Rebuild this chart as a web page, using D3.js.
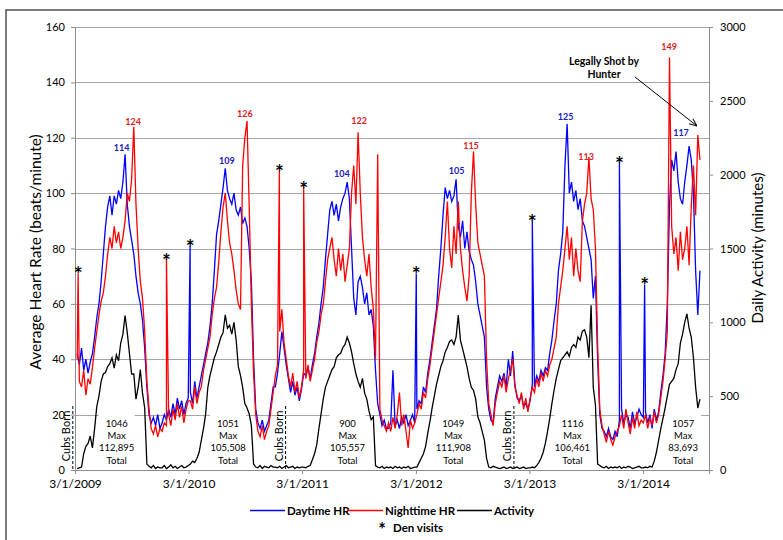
<!DOCTYPE html>
<meta charset="utf-8">
<head>
<style>
  body { margin: 0; background: #fff; }
  text { font-family: Lato, "Open Sans", sans-serif; }
  .grid line { stroke: #a6a6a6; stroke-width: 1px; }
  .axis path, .axis line { stroke: #8c8c8c; }
  .axis text { fill: #000; font-size: 11px; font-family: Lato, sans-serif; }
  .line-day { fill: none; stroke: #0000ff; stroke-width: 1.3px; }
  .line-night { fill: none; stroke: #ff0000; stroke-width: 1.3px; }
  .line-act { fill: none; stroke: #000; stroke-width: 1.3px; }
</style>
</head>
<body>
<script src="https://cdn.jsdelivr.net/npm/d3@7"></script>
<script>
// weekly readings, first week starts 3/8/2009, 13 weeks per row
var firstWeek = new Date(2009, 2, 8);

var dayHR = [
  42, 38, 44, 36, 40, 35, 39, 42, 48, 55, 60, 68, 78,
  88, 95, 99, 92, 99, 96, 101, 98, 104, 114, 96, 88, 83,
  78, 70, 64, 60, 54, 44, 30, 20, 17, 19, 16, 20, 15,
  17, 20, 18, 22, 19, 24, 20, 26, 22, 25, 20, 24, 26,
  28, 24, 32, 26, 30, 34, 38, 42, 46, 52, 60, 72, 85,
  90, 96, 102, 109, 101, 98, 96, 100, 94, 92, 95, 89, 91,
  88, 80, 68, 40, 22, 17, 15, 18, 14, 16, 18, 24, 30,
  30, 35, 42, 50, 44, 38, 33, 28, 32, 27, 30, 25, 29,
  35, 34, 37, 33, 38, 42, 48, 53, 60, 66, 76, 85, 94,
  97, 92, 96, 90, 95, 98, 100, 104, 98, 80, 62, 56, 68,
  70, 66, 60, 64, 56, 58, 52, 36, 24, 20, 16, 18, 15,
  15, 17, 36, 16, 18, 15, 19, 17, 20, 16, 18, 20, 17,
  22, 25, 24, 30, 28, 35, 40, 46, 52, 58, 70, 80, 92,
  102, 98, 101, 97, 99, 105, 88, 84, 90, 80, 86, 79, 76,
  74, 68, 60, 56, 52, 48, 30, 22, 18, 17, 26, 30, 34,
  32, 35, 30, 40, 34, 43, 31, 26, 25, 27, 23, 24, 22,
  25, 31, 30, 34, 32, 36, 34, 37, 36, 42, 47, 54, 60,
  72, 78, 86, 110, 125, 100, 104, 97, 101, 94, 98, 90, 88,
  84, 80, 76, 62, 70, 40, 20, 15, 14, 12, 15, 12, 11,
  14, 12, 18, 22, 17, 20, 19, 15, 21, 17, 19, 22, 20,
  19, 21, 17, 20, 15, 22, 18, 21, 28, 34, 42, 60, 95,
  112, 108, 115, 104, 98, 96, 104, 110, 117, 112, 100, 72, 56,
  72
];

var nightHR = [
  40, 32, 30, 36, 27, 33, 31, 37, 44, 50, 56, 61, 64,
  70, 78, 84, 80, 88, 82, 86, 80, 84, 90, 100, 97, 105,
  124, 96, 80, 68, 62, 50, 32, 22, 15, 13, 16, 12, 15,
  14, 17, 16, 20, 16, 22, 18, 24, 19, 23, 17, 22, 25,
  25, 22, 30, 24, 28, 30, 36, 40, 44, 48, 56, 62, 66,
  75, 86, 95, 100, 90, 82, 78, 72, 65, 60, 58, 110, 120,
  126, 95, 60, 35, 20, 14, 12, 16, 11, 14, 16, 22, 28,
  34, 38, 50, 58, 46, 40, 34, 30, 35, 28, 32, 26, 30,
  36, 33, 38, 32, 36, 40, 46, 50, 56, 60, 68, 76, 80,
  84, 76, 70, 80, 72, 78, 68, 74, 80, 100, 110, 96, 122,
  100, 84, 76, 70, 78, 66, 58, 40, 114, 22, 18, 16, 14,
  17, 14, 19, 15, 20, 28, 16, 20, 14, 8, 18, 15, 17,
  20, 24, 22, 28, 26, 33, 38, 44, 50, 56, 62, 68, 74,
  84, 97, 80, 73, 88, 78, 97, 80, 72, 66, 61, 70, 100,
  115, 96, 82, 78, 74, 70, 40, 24, 20, 16, 24, 28, 32,
  30, 34, 28, 33, 36, 40, 30, 27, 24, 28, 22, 26, 21,
  26, 30, 28, 33, 30, 35, 32, 36, 34, 38, 40, 44, 48,
  60, 66, 72, 80, 88, 76, 84, 70, 80, 72, 68, 90, 96,
  100, 113, 98, 94, 80, 45, 22, 16, 13, 10, 14, 11, 9,
  12, 14, 16, 20, 15, 22, 17, 13, 19, 15, 21, 16, 18,
  17, 20, 15, 19, 16, 21, 17, 20, 26, 32, 40, 50, 149,
  88, 78, 84, 72, 86, 76, 80, 88, 74, 95, 110, 92, 121,
  112
];

var activity = [
  10, 15, 20, 110, 160, 180, 230, 150, 280, 430, 500, 600, 650,
  660, 700, 720, 760, 690, 780, 740, 860, 920, 1046, 930, 790, 650,
  650, 480, 560, 680, 520, 420, 40, 25, 15, 30, 10, 20, 15,
  15, 30, 10, 20, 35, 15, 25, 10, 20, 30, 15, 20, 30,
  40, 60, 50, 80, 120, 200, 280, 380, 560, 640, 700, 760, 800,
  850, 900, 930, 1051, 960, 980, 920, 1000, 880, 700, 640, 560, 450,
  420, 380, 300, 40, 20, 15, 30, 10, 25, 20, 15, 30, 20,
  20, 15, 25, 10, 20, 30, 15, 20, 25, 10, 20, 15, 20,
  20, 15, 25, 30, 70, 110, 170, 280, 380, 480, 560, 600, 640,
  680, 700, 760, 780, 790, 830, 850, 900, 860, 800, 720, 650, 600,
  560, 620, 520, 480, 400, 340, 360, 30, 20, 15, 25, 10, 20,
  15, 20, 10, 25, 15, 20, 10, 20, 15, 25, 10, 15, 20,
  20, 50, 80, 110, 160, 250, 330, 420, 500, 580, 640, 700, 740,
  800, 830, 870, 880, 850, 900, 1049, 880, 820, 760, 700, 620, 560,
  540, 480, 360, 320, 260, 200, 80, 20, 15, 25, 20, 15, 10,
  15, 20, 10, 15, 20, 10, 15, 20, 10, 15, 20, 10, 15,
  15, 20, 15, 30, 50, 80, 120, 180, 260, 350, 450, 540, 620,
  680, 740, 760, 780, 800, 770, 830, 850, 830, 900, 880, 940, 950,
  900, 760, 1116, 560, 440, 40, 30, 20, 15, 25, 10, 20, 15,
  20, 15, 25, 10, 20, 15, 25, 20, 10, 15, 20, 25, 15,
  15, 20, 15, 25, 20, 60, 120, 200, 280, 350, 420, 500, 580,
  600, 620, 680, 720, 860, 920, 1000, 1057, 960, 900, 760, 560, 420,
  480
];

// den visits: one-day spikes marked with *
var denDates  = ["2009-03-11", "2009-12-20", "2010-03-06", "2010-12-18", "2011-03-06",
                 "2012-03-02", "2013-03-10", "2013-12-15", "2014-03-06"];
var denValues = [71, 76, 81, 108, 102, 71, 90, 111, 67];
var denSeries = ["night", "night", "day", "night", "night", "day", "day", "day", "day"];

// peak value labels
var peakText   = ["114", "124", "109", "126", "104", "122", "105", "115", "125", "113", "117", "149"];
var peakDates  = ["2009-07-29", "2009-09-04", "2010-07-02", "2010-08-29", "2011-07-07", "2011-08-31",
                  "2012-07-10", "2012-08-25", "2013-06-25", "2013-08-30", "2014-07-01", "2014-05-24"];
var peakLevel  = [115.3, 124.6, 110.4, 127.5, 105.7, 124.9, 106.9, 116.1, 126.4, 111.9, 120.5, 151.6];
var peakSeries = ["day", "night", "day", "night", "day", "night", "day", "night", "day", "night", "day", "night"];

// yearly activity summaries
var maxDates  = ["2009-07-13", "2010-07-06", "2011-07-25", "2012-06-29", "2013-07-17", "2014-07-08"];
var maxValues = ["1046", "1051", "900", "1049", "1116", "1057"];
var totals    = ["112,895", "105,508", "105,557", "111,908", "106,461", "83,693"];

var cubsDates = ["2009-02-22", "2011-01-07", "2013-01-10"];

var xTicks   = ["2009-03-01", "2010-03-01", "2011-03-01", "2012-03-01", "2013-03-01", "2014-03-01"];
var hrTicks  = [0, 20, 40, 60, 80, 100, 120, 140, 160];
var actTicks = [0, 500, 1000, 1500, 2000, 2500, 3000];

var parseDate = d3.timeParse("%Y-%m-%d");

var margin = { top: 27, right: 74, bottom: 70, left: 75 },
    width = 783 - margin.left - margin.right,
    height = 540 - margin.top - margin.bottom;

var svg0 = d3.select("body").append("svg")
    .attr("width", 783)
    .attr("height", 540);

// outer frame
svg0.append("rect")
    .attr("x", 6).attr("y", 10)
    .attr("width", 820).attr("height", 600)
    .attr("fill", "none")
    .attr("stroke", "#5a5a5a")
    .attr("stroke-width", 1.6);

var svg = svg0.append("g")
    .attr("transform", "translate(" + margin.left + "," + margin.top + ")");

var x = d3.scaleTime()
    .domain([parseDate("2009-03-01"), parseDate("2014-09-29")])
    .range([0, width]);
var y = d3.scaleLinear().domain([0, 160]).range([height, 0]);
var y2 = d3.scaleLinear().domain([0, 3000]).range([height, 0]);

// grid lines
svg.append("g").attr("class", "grid")
  .selectAll("line")
  .data(hrTicks.slice(1))
  .enter().append("line")
    .attr("x1", 0).attr("x2", width)
    .attr("y1", function(d) { return Math.round(y(d)) + 0.5; })
    .attr("y2", function(d) { return Math.round(y(d)) + 0.5; });

// axes
svg.append("g")
    .attr("class", "axis")
    .call(d3.axisLeft(y).tickValues(hrTicks).tickSize(4).tickPadding(6));

svg.append("g")
    .attr("class", "axis")
    .attr("transform", "translate(" + width + ",0)")
    .call(d3.axisRight(y2).tickValues(actTicks).tickFormat(d3.format("d")).tickSize(4).tickPadding(7));

svg.append("g")
    .attr("class", "axis")
    .attr("transform", "translate(0," + height + ")")
    .call(d3.axisBottom(x)
        .tickValues(xTicks.map(parseDate))
        .tickFormat(d3.timeFormat("%-m/%-d/%Y"))
        .tickSize(4).tickPadding(5))
    .selectAll("text").style("font-size", "12px");

// build series from weekly readings plus den visit days
var weeks = d3.timeWeek.range(firstWeek, d3.timeWeek.offset(firstWeek, dayHR.length));

function buildSeries(values, key) {
    var pts = weeks.map(function(d, i) { return { date: d, value: values[i] }; });
    denDates.forEach(function(d, i) {
        if (denSeries[i] === key) pts.push({ date: parseDate(d), value: denValues[i] });
    });
    pts.sort(function(a, b) { return a.date - b.date; });
    return pts;
}

var hrLine = d3.line()
    .x(function(d) { return x(d.date); })
    .y(function(d) { return y(d.value); });
var actLine = d3.line()
    .x(function(d) { return x(d.date); })
    .y(function(d) { return y2(d.value); });

svg.append("path")
    .datum(buildSeries(dayHR, "day"))
    .attr("class", "line-day")
    .attr("d", hrLine);

svg.append("path")
    .datum(buildSeries(nightHR, "night"))
    .attr("class", "line-night")
    .attr("d", hrLine);

svg.append("path")
    .datum(buildSeries(activity, "act"))
    .attr("class", "line-act")
    .attr("d", actLine);

// den visit asterisks
svg.selectAll(".den")
    .data(denDates)
    .enter().append("text")
    .attr("class", "den")
    .attr("x", function(d) { return x(parseDate(d)); })
    .attr("y", function(d, i) { return y(denValues[i]) + 9; })
    .attr("text-anchor", "middle")
    .style("font-size", "21px")
    .style("font-weight", "bold")
    .text("*");

// peak labels
svg.selectAll(".peak")
    .data(peakText)
    .enter().append("text")
    .attr("class", "peak")
    .attr("x", function(d, i) { return x(parseDate(peakDates[i])); })
    .attr("y", function(d, i) { return y(peakLevel[i]); })
    .attr("text-anchor", "middle")
    .style("font-size", "9px")
    .style("font-weight", "bold")
    .style("fill", function(d, i) { return peakSeries[i] === "day" ? "#2020c0" : "#e02020"; })
    .text(function(d) { return d; });

// Max / Total boxes
var maxG = svg.selectAll(".maxbox")
    .data(maxValues)
    .enter().append("g")
    .attr("class", "maxbox")
    .attr("transform", function(d, i) {
        return "translate(" + x(parseDate(maxDates[i])) + "," + height + ")";
    });
maxG.append("rect")
    .attr("x", -18).attr("y", -55)
    .attr("width", 36).attr("height", 52)
    .attr("fill", "#fff");
maxG.each(function(d, i) {
    var lines = [d, "Max", totals[i], "Total"];
    d3.select(this).selectAll("text")
        .data(lines)
        .enter().append("text")
        .attr("x", 0)
        .attr("y", function(t, j) { return -43 + j * 12.2; })
        .attr("text-anchor", "middle")
        .style("font-size", "9.5px")
        .text(function(t) { return t; });
});

// Cubs Born markers
var cubs = svg.selectAll(".cubs")
    .data(cubsDates)
    .enter().append("g")
    .attr("class", "cubs")
    .attr("transform", function(d) { return "translate(" + x(parseDate(d)) + ",0)"; });
cubs.append("line")
    .attr("x1", 0).attr("x2", 0)
    .attr("y1", height - 64).attr("y2", height)
    .attr("stroke", "#000")
    .attr("stroke-width", 1)
    .attr("stroke-dasharray", "3,2");
cubs.append("text")
    .attr("transform", "translate(-3," + (height - 34) + ") rotate(-90)")
    .attr("text-anchor", "middle")
    .style("font-size", "11px")
    .text("Cubs Born");

// hunter annotation
svg0.append("defs").append("marker")
    .attr("id", "arrow")
    .attr("viewBox", "0 0 10 10")
    .attr("refX", 10).attr("refY", 5)
    .attr("markerWidth", 8).attr("markerHeight", 8)
    .attr("orient", "auto")
  .append("path")
    .attr("d", "M0,1 L10,5 L0,9")
    .attr("fill", "none")
    .attr("stroke", "#000")
    .attr("stroke-width", 1.2);

svg0.append("text")
    .attr("x", 604).attr("y", 65)
    .attr("text-anchor", "middle")
    .style("font-size", "10.5px").style("font-weight", "bold")
    .text("Legally Shot by");
svg0.append("text")
    .attr("x", 604).attr("y", 78)
    .attr("text-anchor", "middle")
    .style("font-size", "10.5px").style("font-weight", "bold")
    .text("Hunter");
svg0.append("line")
    .attr("x1", 635).attr("y1", 77)
    .attr("x2", 697).attr("y2", 126)
    .attr("stroke", "#000").attr("stroke-width", 1)
    .attr("marker-end", "url(#arrow)");

// axis titles
svg0.append("text")
    .attr("transform", "translate(41,252) rotate(-90)")
    .attr("text-anchor", "middle")
    .style("font-size", "15.5px")
    .text("Average Heart Rate (beats/minute)");
svg0.append("text")
    .attr("transform", "translate(763,248) rotate(-90)")
    .attr("text-anchor", "middle")
    .style("font-size", "15px")
    .text("Daily Activity (minutes)");

// legend
var legendNames = ["Daytime HR", "Nighttime HR", "Activity"];
var legendColors = ["#0000ff", "#ff0000", "#000"];
var legendX = [250, 348, 457];
var leg = svg0.selectAll(".legend")
    .data(legendNames)
    .enter().append("g")
    .attr("class", "legend")
    .attr("transform", function(d, i) { return "translate(" + legendX[i] + ",510.5)"; });
leg.append("line")
    .attr("x1", 0).attr("x2", 35)
    .attr("stroke", function(d, i) { return legendColors[i]; })
    .attr("stroke-width", 1.5);
leg.append("text")
    .attr("x", 37).attr("y", 4)
    .style("font-size", "11.5px").style("font-weight", "bold")
    .text(function(d) { return d; });

svg0.append("text")
    .attr("x", 382).attr("y", 536)
    .attr("text-anchor", "middle")
    .style("font-size", "18px").style("font-weight", "bold")
    .text("*");
svg0.append("text")
    .attr("x", 393).attr("y", 532)
    .style("font-size", "11.5px").style("font-weight", "bold")
    .text("Den visits");
</script>
</body>
